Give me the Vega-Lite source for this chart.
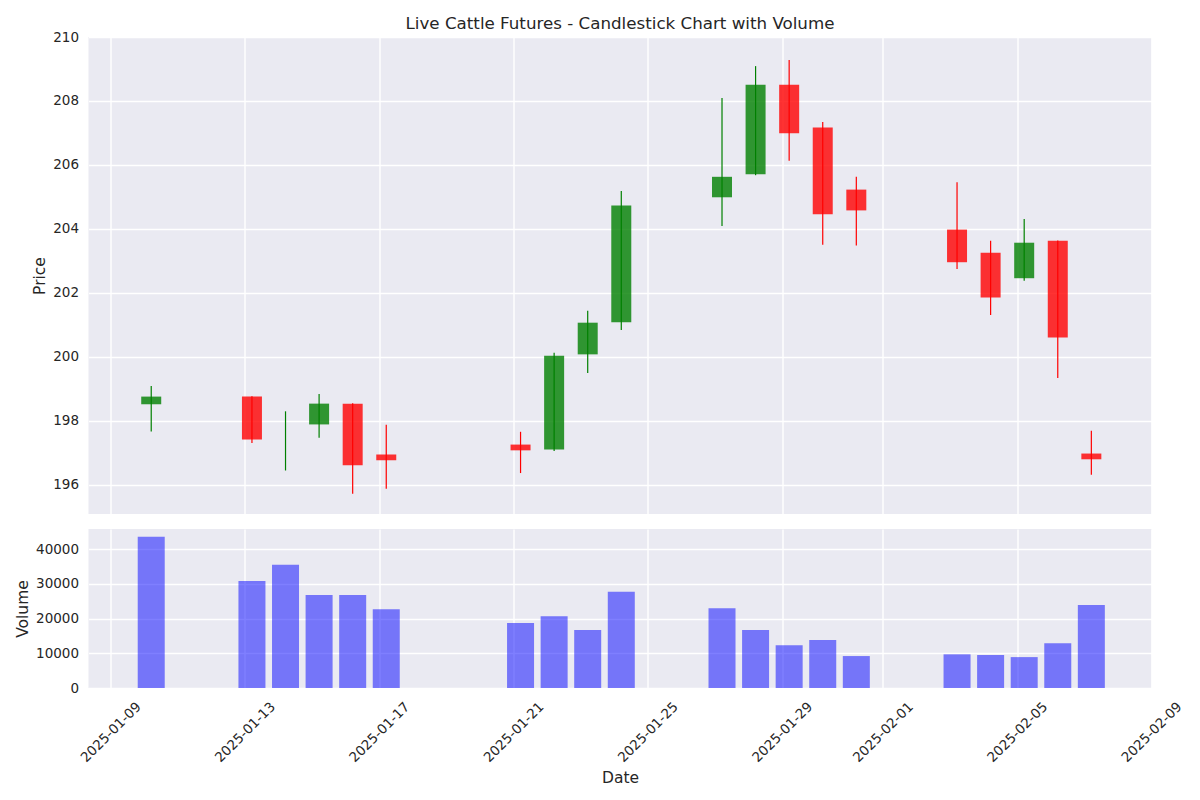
{
  "$schema": "https://vega.github.io/schema/vega-lite/v6.json",
  "background": "white",
  "padding": {"left": 15.5, "top": 16, "right": 46, "bottom": 10},
  "spacing": 15,
  "config": {
    "font": "DejaVu Sans",
    "view": {"fill": "#eaeaf2", "stroke": null},
    "axis": {
      "gridColor": "#ffffff",
      "gridWidth": 1.4,
      "gridOpacity": 1,
      "domain": false,
      "ticks": false,
      "labelFont": "DejaVu Sans",
      "labelFontSize": 13.5,
      "labelColor": "#262626",
      "titleFont": "DejaVu Sans",
      "titleFontSize": 15.5,
      "titleFontWeight": "normal",
      "titleColor": "#262626"
    }
  },
  "datasets": {
    "ohlc": [
      {"date": "2025-01-10T05:00:00Z", "open": 198.52, "high": 199.09, "low": 197.67, "close": 198.76, "volume": 43600},
      {"date": "2025-01-13T05:00:00Z", "open": 198.76, "high": 198.77, "low": 197.31, "close": 197.42, "volume": 30800},
      {"date": "2025-01-14T05:00:00Z", "open": 197.5, "high": 198.30, "low": 196.45, "close": 197.5, "volume": 35500},
      {"date": "2025-01-15T05:00:00Z", "open": 197.89, "high": 198.84, "low": 197.47, "close": 198.54, "volume": 26800},
      {"date": "2025-01-16T05:00:00Z", "open": 198.54, "high": 198.55, "low": 195.72, "close": 196.61, "volume": 26800},
      {"date": "2025-01-17T05:00:00Z", "open": 196.95, "high": 197.88, "low": 195.88, "close": 196.77, "volume": 22700},
      {"date": "2025-01-21T05:00:00Z", "open": 197.26, "high": 197.66, "low": 196.37, "close": 197.08, "volume": 18700},
      {"date": "2025-01-22T05:00:00Z", "open": 197.11, "high": 200.13, "low": 197.06, "close": 200.04, "volume": 20700},
      {"date": "2025-01-23T05:00:00Z", "open": 200.08, "high": 201.44, "low": 199.50, "close": 201.07, "volume": 16700},
      {"date": "2025-01-24T05:00:00Z", "open": 201.08, "high": 205.19, "low": 200.84, "close": 204.73, "volume": 27700},
      {"date": "2025-01-27T05:00:00Z", "open": 204.99, "high": 208.09, "low": 204.09, "close": 205.63, "volume": 23000},
      {"date": "2025-01-28T05:00:00Z", "open": 205.71, "high": 209.09, "low": 205.68, "close": 208.51, "volume": 16700},
      {"date": "2025-01-29T05:00:00Z", "open": 208.51, "high": 209.28, "low": 206.13, "close": 206.99, "volume": 12300},
      {"date": "2025-01-30T05:00:00Z", "open": 207.17, "high": 207.34, "low": 203.51, "close": 204.46, "volume": 13800},
      {"date": "2025-01-31T05:00:00Z", "open": 205.23, "high": 205.63, "low": 203.48, "close": 204.58, "volume": 9200},
      {"date": "2025-02-03T05:00:00Z", "open": 203.98, "high": 205.46, "low": 202.75, "close": 202.96, "volume": 9700},
      {"date": "2025-02-04T05:00:00Z", "open": 203.26, "high": 203.63, "low": 201.31, "close": 201.86, "volume": 9500},
      {"date": "2025-02-05T05:00:00Z", "open": 202.46, "high": 204.31, "low": 202.38, "close": 203.57, "volume": 8900},
      {"date": "2025-02-06T05:00:00Z", "open": 203.63, "high": 203.64, "low": 199.34, "close": 200.61, "volume": 12900},
      {"date": "2025-02-07T05:00:00Z", "open": 196.98, "high": 197.69, "low": 196.32, "close": 196.80, "volume": 23900}
    ]
  },
  "vconcat": [
    {
      "width": 1063,
      "height": 477,
      "title": {"text": "Live Cattle Futures - Candlestick Chart with Volume", "fontSize": 16.7, "fontWeight": "normal", "color": "#262626", "anchor": "middle", "offset": -3, "font": "DejaVu Sans"},
      "data": {"name": "ohlc"},
      "layer": [
        {
          "mark": {"type": "bar", "size": 20, "opacity": 0.8},
          "encoding": {
            "x": {"field": "date", "type": "temporal", "scale": {"type": "utc", "padding": 0, "domain": [{"year": 2025, "month": 1, "date": 8, "hours": 8, "minutes": 10, "utc": true}, {"year": 2025, "month": 2, "date": 9, "utc": true}]},
              "axis": {"labels": false, "title": null, "grid": true, "gridColor": "#ffffff", "values": [
                {"year": 2025, "month": 1, "date": 9, "utc": true},
                {"year": 2025, "month": 1, "date": 13, "utc": true},
                {"year": 2025, "month": 1, "date": 17, "utc": true},
                {"year": 2025, "month": 1, "date": 21, "utc": true},
                {"year": 2025, "month": 1, "date": 25, "utc": true},
                {"year": 2025, "month": 1, "date": 29, "utc": true},
                {"year": 2025, "month": 2, "date": 1, "utc": true},
                {"year": 2025, "month": 2, "date": 5, "utc": true},
                {"year": 2025, "month": 2, "date": 9, "utc": true}
              ]}},
            "y": {"field": "open", "type": "quantitative", "scale": {"domain": [195.09, 210], "nice": false, "zero": false},
              "axis": {"title": "Price", "gridColor": "#ffffff", "values": [196, 198, 200, 202, 204, 206, 208, 210], "labelPadding": 10, "titlePadding": 5}},
            "y2": {"field": "close"},
            "color": {"condition": {"test": "datum.close >= datum.open", "value": "#008000"}, "value": "#ff0000"}
          }
        },
        {
          "mark": {"type": "rule", "strokeWidth": 1.2},
          "encoding": {
            "x": {"field": "date", "type": "temporal"},
            "y": {"field": "low", "type": "quantitative"},
            "y2": {"field": "high"},
            "color": {"condition": {"test": "datum.close >= datum.open", "value": "#008000"}, "value": "#ff0000"}
          }
        }
      ]
    },
    {
      "width": 1063,
      "height": 159,
      "data": {"name": "ohlc"},
      "mark": {"type": "bar", "size": 27, "color": "#0000ff", "opacity": 0.5},
      "encoding": {
        "x": {"field": "date", "type": "temporal", "scale": {"type": "utc", "padding": 0, "domain": [{"year": 2025, "month": 1, "date": 8, "hours": 8, "minutes": 10, "utc": true}, {"year": 2025, "month": 2, "date": 9, "utc": true}]},
          "axis": {"title": "Date", "grid": true, "gridColor": "#ffffff", "format": "%Y-%m-%d", "labelAngle": -45, "labelAlign": "center", "labelBaseline": "middle", "labelPadding": 44, "labelFlush": false, "labelOverlap": false, "titlePadding": 6, "values": [
            {"year": 2025, "month": 1, "date": 9, "utc": true},
            {"year": 2025, "month": 1, "date": 13, "utc": true},
            {"year": 2025, "month": 1, "date": 17, "utc": true},
            {"year": 2025, "month": 1, "date": 21, "utc": true},
            {"year": 2025, "month": 1, "date": 25, "utc": true},
            {"year": 2025, "month": 1, "date": 29, "utc": true},
            {"year": 2025, "month": 2, "date": 1, "utc": true},
            {"year": 2025, "month": 2, "date": 5, "utc": true},
            {"year": 2025, "month": 2, "date": 9, "utc": true}
          ]}},
        "y": {"field": "volume", "type": "quantitative", "scale": {"domain": [0, 45800], "nice": false},
          "axis": {"title": "Volume", "gridColor": "#ffffff", "values": [0, 10000, 20000, 30000, 40000], "format": "d", "labelPadding": 10, "titlePadding": 5}}
      }
    }
  ]
}
